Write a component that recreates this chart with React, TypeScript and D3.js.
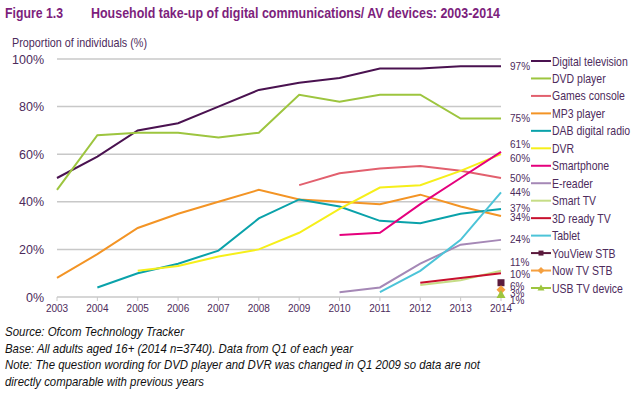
import React from 'react';
import * as d3 from 'd3';

const years = [2003, 2004, 2005, 2006, 2007, 2008, 2009, 2010, 2011, 2012, 2013, 2014];
type V = number | null;

const digitalTv: V[] = [50, 59, 70, 73, 80, 87, 90, 92, 96, 96, 97, 97];
const dvdPlayer: V[] = [45, 68, 69, 69, 67, 69, 85, 82, 85, 85, 75, 75];
const gamesConsole: V[] = [null, null, null, null, null, null, 47, 52, 54, 55, 53, 50];
const mp3Player: V[] = [8, 18, 29, 35, 40, 45, 41, 40, 39, 43, 38, 34];
const dabRadio: V[] = [null, 4, 10, 14, 19.5, 33, 41, 38, 32, 31, 35, 37];
const dvr: V[] = [null, null, 11, 13, 17, 20, 27, 37, 46, 47, 53, 60];
const smartphone: V[] = [null, null, null, null, null, null, null, 26, 27, 39, 50, 61];
const eReader: V[] = [null, null, null, null, null, null, null, 2, 4, 14, 22, 24];
const smartTv: V[] = [null, null, null, null, null, null, null, null, null, 5, 7, 11];
const threeDTv: V[] = [null, null, null, null, null, null, null, null, null, 6, 8, 10];
const tablet: V[] = [null, null, null, null, null, null, null, null, 2, 11, 24, 44];
const youView: V[] = [null, null, null, null, null, null, null, null, null, null, null, 6];
const nowTv: V[] = [null, null, null, null, null, null, null, null, null, null, null, 3];
const usbTv: V[] = [null, null, null, null, null, null, null, null, null, null, null, 1];

const seriesNames = [
  'Digital television', 'DVD player', 'Games console', 'MP3 player', 'DAB digital radio', 'DVR',
  'Smartphone', 'E-reader', 'Smart TV', '3D ready TV', 'Tablet', 'YouView STB', 'Now TV STB', 'USB TV device',
];
const seriesValues = [
  digitalTv, dvdPlayer, gamesConsole, mp3Player, dabRadio, dvr,
  smartphone, eReader, smartTv, threeDTv, tablet, youView, nowTv, usbTv,
];
const colors = [
  '#4a1250', '#9dc53f', '#e2606e', '#f39425', '#0aa2aa', '#f6ef1a',
  '#e5007d', '#a588b6', '#c6dd86', '#c8102e', '#4cc4d8', '#5b1a3c', '#f5a040', '#9dc53f',
];
const markers = [null, null, null, null, null, null, null, null, null, null, null, 'square', 'diamond', 'triangle'];
const yTicks = [0, 20, 40, 60, 80, 100];
const footnotes = [
  'Source: Ofcom Technology Tracker',
  'Base: All adults aged 16+ (2014 n=3740). Data from Q1 of each year',
  'Note: The question wording for DVD player and DVR was changed in Q1 2009 so data are not',
  'directly comparable with previous years',
];
const footnoteWidths = [179, 348, 475, 199];

// nudges so the crowded end labels don't overlap too much (pixels)
const labelNudge: Record<string, number> = {
  'Smartphone': -7, 'DVR': 4, 'MP3 player': 1,
  'Smart TV': -8, '3D ready TV': 1, 'YouView STB': 4, 'Now TV STB': 4, 'USB TV device': 6,
};

const font = 'Arial, "Liberation Sans", sans-serif';
const textCol = '#4d2b5c';

export default function App() {
  const x = d3.scaleLinear().domain([2003, 2014]).range([57, 501]);
  const y = d3.scaleLinear().domain([0, 100]).range([297, 59]);
  const line = d3.line<[number, V]>()
    .defined(d => d[1] != null)
    .x(d => x(d[0]))
    .y(d => y(d[1] as number));

  const legendY = d3.scaleLinear().domain([0, 13]).range([61, 288]);

  const marker = (kind: string | null, cx: number, cy: number, color: string, s = 4) => {
    if (kind === 'square') return <rect x={cx - s} y={cy - s} width={s * 2} height={s * 2} fill={color} />;
    if (kind === 'diamond') return <path d={`M${cx},${cy - s - 1}L${cx + s + 1},${cy}L${cx},${cy + s + 1}L${cx - s - 1},${cy}Z`} fill={color} />;
    if (kind === 'triangle') return <path d={`M${cx},${cy - s - 1}L${cx + s + 1},${cy + s}L${cx - s - 1},${cy + s}Z`} fill={color} />;
    return null;
  };

  return (
    <svg width={640} height={394} style={{ position: 'absolute', left: 0, top: 0, background: '#fff' }} fontFamily={font}>
      <text x={5} y={18} fontSize={15} fontWeight="bold" fill="#7d1f7d" textLength={58} lengthAdjust="spacingAndGlyphs">Figure 1.3</text>
      <text x={91} y={18} fontSize={15} fontWeight="bold" fill="#7d1f7d" textLength={409} lengthAdjust="spacingAndGlyphs">Household take-up of digital communications/ AV devices: 2003-2014</text>
      <text x={12} y={47} fontSize={13} fill={textCol} textLength={135} lengthAdjust="spacingAndGlyphs">Proportion of individuals (%)</text>

      {yTicks.map(t => (
        <g key={t}>
          <line x1={57} x2={501} y1={y(t)} y2={y(t)} stroke="#c8c8c8" strokeWidth={1.5} />
          <text x={44} y={y(t) + 4.5} fontSize={12.5} textAnchor="end" fill={textCol}>{t}%</text>
        </g>
      ))}
      {years.map(yr => (
        <g key={yr}>
          <line x1={x(yr)} x2={x(yr)} y1={297} y2={301} stroke="#c8c8c8" strokeWidth={1} />
          <text x={x(yr)} y={312} fontSize={10} textAnchor="middle" fill={textCol}>{yr}</text>
        </g>
      ))}

      {seriesValues.map((vals, i) => {
        const pts = years.map((yr, j) => [yr, vals[j]] as [number, V]);
        if (markers[i]) {
          const v = vals[vals.length - 1] as number;
          return <g key={i}>{marker(markers[i], x(2014), y(v), colors[i], 3.5)}</g>;
        }
        return <path key={i} d={line(pts) || ''} fill="none" stroke={colors[i]} strokeWidth={2} />;
      })}

      {seriesValues.map((vals, i) => {
        const v = vals[vals.length - 1] as number;
        return (
          <text key={i} x={510} y={y(v) + 3.5 + (labelNudge[seriesNames[i]] || 0)} fontSize={10} fill={textCol}>
            {Math.round(v)}%
          </text>
        );
      })}

      {seriesNames.map((name, i) => {
        const ly = legendY(i);
        return (
          <g key={name}>
            <line x1={531} x2={551} y1={ly} y2={ly} stroke={colors[i]} strokeWidth={2} />
            {marker(markers[i], 541, ly, colors[i], 2.5)}
            <text transform={`translate(552,${ly + 4.5}) scale(0.84,1)`} fontSize={12.5} fill={textCol}>{name}</text>
          </g>
        );
      })}

      {footnotes.map((f, i) => (
        <text key={i} x={5} y={336 + i * 16.5} fontSize={13} fontStyle="italic" fill="#111"
          textLength={footnoteWidths[i]} lengthAdjust="spacingAndGlyphs">{f}</text>
      ))}
    </svg>
  );
}
